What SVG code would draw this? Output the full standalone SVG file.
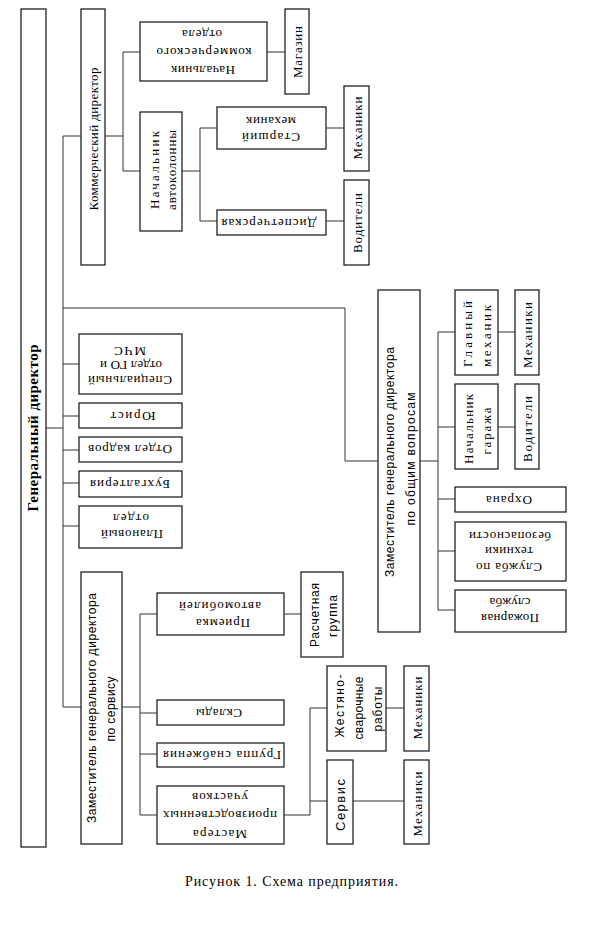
<svg xmlns="http://www.w3.org/2000/svg" width="589" height="930" viewBox="0 0 589 930">
<style>
.b{fill:#fff;stroke:#222;stroke-width:1.3}
.c line,.c path{stroke:#333;stroke-width:1;fill:none}
text{fill:#000;text-anchor:middle;dominant-baseline:central}
.s{font-family:"Liberation Serif","Times New Roman",serif;font-size:13px}
.a{font-family:"Liberation Sans",Arial,sans-serif;font-size:12px}
.a13{font-family:"Liberation Sans",Arial,sans-serif;font-size:13px}
.g{font-family:"Liberation Serif","Times New Roman",serif;font-size:15px;font-weight:bold}
.cap{font-family:"Liberation Serif","Times New Roman",serif;font-size:14px;dominant-baseline:auto}
</style>
<rect width="589" height="930" fill="#fff"/>
<g class="c" id="connectors">
<path d="M45,428H63M63,136V707M63,136H81"/>
<path d="M105,136H123M123,52V171M123,52H140M123,171H140M267,52H285"/>
<path d="M182,171H200M200,128V221M200,128H217M200,221H217M326,128H344M326,221H344"/>
<path d="M63,308H345V461H378"/>
<path d="M420,461H438M438,332V610M438,332H455M438,427H455M438,499H455M438,551H455M438,610H455M498,332H515M498,427H515"/>
<path d="M63,364H79M63,416H79M63,450H79M63,483H79M63,526H79"/>
<path d="M63,707H81M122,707H140M140,614V815M140,614H157M140,713H157M140,754H157M140,815H157M284,614H301"/>
<path d="M284,815H310M310,708V815M310,708H327M310,801H327M386,708H404M353,801H404"/>
</g>
<g id="gd"><rect class="b" x="21" y="9" width="25" height="838"/><text class="g" transform="translate(33,428) rotate(-90)" textLength="167">Генеральный директор</text></g>
<g id="komdir"><rect class="b" x="81" y="9" width="24" height="256"/><text class="s" transform="translate(93,139) rotate(-90)" textLength="143">Коммерческий директор</text></g>
<g id="nachkomm"><rect class="b" x="140" y="22" width="127" height="59"/>
<text class="s" transform="translate(203,70) rotate(180)" textLength="64">Начальник</text>
<text class="s" transform="translate(204,52) rotate(180)" textLength="95">коммерческого</text>
<text class="s" transform="translate(202,34) rotate(180)" textLength="40">отдела</text></g>
<g id="magazin"><rect class="b" x="285" y="9" width="24" height="85"/><text class="s" transform="translate(297,52) rotate(-90)" textLength="52">Магазин</text></g>
<g id="avtokol"><rect class="b" x="140" y="112" width="42" height="119"/>
<text class="s" transform="translate(154,170) rotate(-90)" textLength="78">Начальник</text>
<text class="s" transform="translate(171,170) rotate(-90)" textLength="80">автоколонны</text></g>
<g id="starsh"><rect class="b" x="217" y="107" width="109" height="42"/>
<text class="s" transform="translate(271,137) rotate(180)" textLength="58">Старший</text>
<text class="s" transform="translate(271,121) rotate(180)" textLength="50">механик</text></g>
<g id="disp"><rect class="b" x="217" y="210" width="109" height="25"/><text class="s" transform="translate(269,223) rotate(180)" textLength="95">Диспетчерская</text></g>
<g id="mekh1"><rect class="b" x="344" y="86" width="25" height="85"/><text class="s" transform="translate(357,128) rotate(-90)" textLength="63">Механики</text></g>
<g id="vod1"><rect class="b" x="344" y="180" width="25" height="85"/><text class="s" transform="translate(357,223) rotate(-90)" textLength="60">Водители</text></g>
<g id="zamobsh"><rect class="b" x="378" y="290" width="42" height="342"/>
<text class="a" transform="translate(390,462) rotate(-90)" textLength="230">Заместитель генерального директора</text>
<text class="a" transform="translate(411,459) rotate(-90)" textLength="133">по общим вопросам</text></g>
<g id="glavmekh"><rect class="b" x="455" y="290" width="43" height="85"/>
<text class="s" transform="translate(467,334) rotate(-90)" textLength="66">Главный</text>
<text class="s" transform="translate(486,336) rotate(-90)" textLength="62">механик</text></g>
<g id="mekh2"><rect class="b" x="515" y="290" width="24" height="85"/><text class="s" transform="translate(527,335) rotate(-90)" textLength="66">Механики</text></g>
<g id="nachgar"><rect class="b" x="455" y="384" width="43" height="85"/>
<text class="s" transform="translate(468,429) rotate(-90)" textLength="70">Начальник</text>
<text class="s" transform="translate(486,431) rotate(-90)" textLength="47">гаража</text></g>
<g id="vod2"><rect class="b" x="515" y="384" width="24" height="85"/><text class="s" transform="translate(527,429) rotate(-90)" textLength="66">Водители</text></g>
<g id="okhrana"><rect class="b" x="455" y="487" width="111" height="25"/><text class="s" transform="translate(509,500) rotate(180)" textLength="46">Охрана</text></g>
<g id="sluzhbatb"><rect class="b" x="455" y="522" width="111" height="59"/>
<text class="s" transform="translate(509,567) rotate(180)" textLength="66">Служба по</text>
<text class="s" transform="translate(509,551) rotate(180)" textLength="48">техники</text>
<text class="s" transform="translate(510,536) rotate(180)" textLength="82">безопасности</text></g>
<g id="pozhar"><rect class="b" x="455" y="590" width="111" height="42"/>
<text class="s" transform="translate(510,618) rotate(180)" textLength="58">Пожарная</text>
<text class="s" transform="translate(510,602) rotate(180)" textLength="41">служба</text></g>
<g id="spets"><rect class="b" x="79" y="334" width="103" height="60"/>
<text class="s" transform="translate(130,380) rotate(180)" textLength="84">Специальный</text>
<text class="s" transform="translate(131,365) rotate(180)" textLength="62">отдел ГО и</text>
<text class="s" transform="translate(130,351) rotate(180)" textLength="32">МЧС</text></g>
<g id="yurist"><rect class="b" x="79" y="403" width="103" height="25"/><text class="s" transform="translate(133,416) rotate(180)" textLength="45">Юрист</text></g>
<g id="kadry"><rect class="b" x="79" y="437" width="103" height="25"/><text class="s" transform="translate(130,449) rotate(180)" textLength="84">Отдел кадров</text></g>
<g id="bukh"><rect class="b" x="79" y="471" width="103" height="26"/><text class="s" transform="translate(130,484) rotate(180)" textLength="80">Бухгалтерия</text></g>
<g id="plan"><rect class="b" x="79" y="506" width="103" height="42"/>
<text class="s" transform="translate(132,534) rotate(180)" textLength="62">Плановый</text>
<text class="s" transform="translate(131,518) rotate(180)" textLength="36">отдел</text></g>
<g id="zamserv"><rect class="b" x="81" y="572" width="41" height="272"/>
<text class="a" transform="translate(92,708) rotate(-90)" textLength="230">Заместитель генерального директора</text>
<text class="a" transform="translate(111,709) rotate(-90)" textLength="65">по сервису</text></g>
<g id="priemka"><rect class="b" x="157" y="593" width="127" height="42"/>
<text class="s" transform="translate(223,623) rotate(180)" textLength="54">Приемка</text>
<text class="s" transform="translate(220,606) rotate(180)" textLength="82">автомобилей</text></g>
<g id="sklady"><rect class="b" x="157" y="700" width="127" height="25"/><text class="s" transform="translate(219,713) rotate(180)" textLength="46">Склады</text></g>
<g id="snab"><rect class="b" x="157" y="743" width="127" height="24"/><text class="s" transform="translate(222,755) rotate(180)" textLength="118">Группа снабжения</text></g>
<g id="mastera"><rect class="b" x="157" y="786" width="127" height="58"/>
<text class="s" transform="translate(220,834) rotate(180)" textLength="54">Мастера</text>
<text class="s" transform="translate(220,815) rotate(180)" textLength="114">производственных</text>
<text class="s" transform="translate(220,797) rotate(180)" textLength="56">участков</text></g>
<g id="raschet"><rect class="b" x="301" y="572" width="42" height="85"/>
<text class="a" transform="translate(315,615) rotate(-90)" textLength="64">Расчетная</text>
<text class="a" transform="translate(333,616) rotate(-90)" textLength="42">группа</text></g>
<g id="zhest"><rect class="b" x="327" y="666" width="59" height="85"/>
<text class="a" transform="translate(340,706) rotate(-90)" textLength="63">Жестяно-</text>
<text class="a" transform="translate(359,708) rotate(-90)" textLength="63">сварочные</text>
<text class="a" transform="translate(378,709) rotate(-90)" textLength="45">работы</text></g>
<g id="servis"><rect class="b" x="327" y="760" width="26" height="84"/><text class="a13" transform="translate(340,805) rotate(-90)" textLength="52">Сервис</text></g>
<g id="mekh3"><rect class="b" x="404" y="666" width="25" height="85"/><text class="s" transform="translate(417,708) rotate(-90)" textLength="63">Механики</text></g>
<g id="mekh4"><rect class="b" x="404" y="760" width="25" height="84"/><text class="s" transform="translate(417,804) rotate(-90)" textLength="65">Механики</text></g>
<text class="cap" x="291.5" y="886" textLength="213">Рисунок 1. Схема предприятия.</text>
</svg>
